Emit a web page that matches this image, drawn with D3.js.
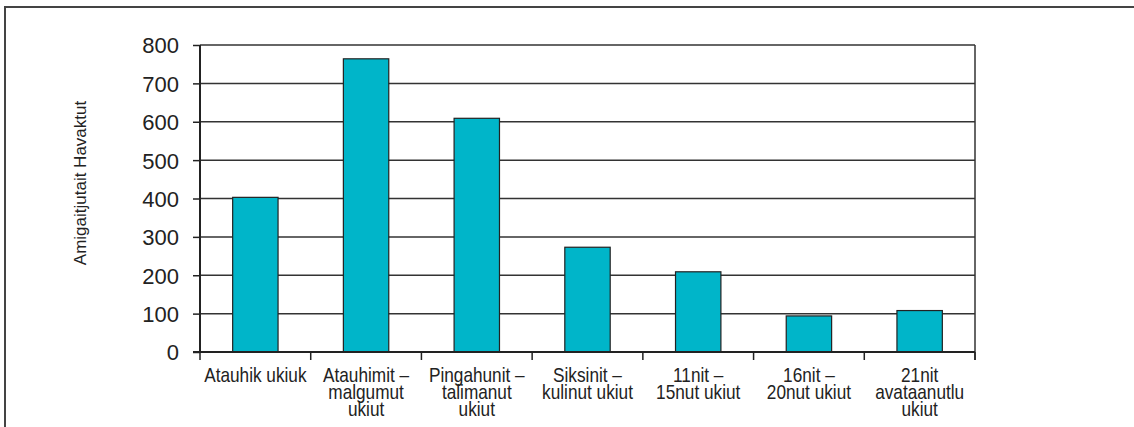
<!DOCTYPE html>
<html>
<head>
<meta charset="utf-8">
<title>Amigaitjutait Havaktut</title>
<script src="https://cdn.jsdelivr.net/npm/d3@7"></script>
<style>
  body { margin: 0; background: #fff; }
  svg { display: block; }
  .tick-label { font-family: "Liberation Sans", Arial, sans-serif; font-size: 22px; fill: #222; }
  .cat-label { font-family: "Liberation Sans", Arial, sans-serif; font-size: 21px; fill: #222; }
  .axis-title { font-family: "Liberation Sans", Arial, sans-serif; font-size: 17px; fill: #222; }
</style>
</head>
<body>
<svg id="main" width="1134" height="427"></svg>
<script>
// data
var categories = [
  "Atauhik ukiuk",
  "Atauhimit –\nmalgumut\nukiut",
  "Pingahunit –\ntalimanut\nukiut",
  "Siksinit –\nkulinut ukiut",
  "11nit –\n15nut ukiut",
  "16nit –\n20nut ukiut",
  "21nit\navataanutlu\nukiut"
];
var values = [403, 764, 609, 273, 209, 94, 108];
var yTicks = [0, 100, 200, 300, 400, 500, 600, 700, 800];
var yTitle = "Amigaitjutait Havaktut";

var svg = d3.select("#main");

// outer frame (cropped on right and bottom)
svg.append("path")
  .attr("d", "M5,427 L5,7 L1134,7")
  .attr("fill", "none")
  .attr("stroke", "#444")
  .attr("stroke-width", 2);

var plotL = 200, plotR = 975, plotT = 45, plotB = 352;

var x = d3.scaleBand()
  .domain(categories)
  .range([plotL, plotR])
  .paddingInner(0.59)
  .paddingOuter(0.295);

var y = d3.scaleLinear()
  .domain([0, 800])
  .range([plotB, plotT]);

// gridlines
svg.append("g").selectAll("line")
  .data(yTicks.filter(function(d) { return d > 0; }))
  .enter().append("line")
  .attr("x1", plotL).attr("x2", plotR)
  .attr("y1", function(d) { return y(d); })
  .attr("y2", function(d) { return y(d); })
  .attr("stroke", "#333")
  .attr("stroke-width", 1.5);

// right border
svg.append("line")
  .attr("x1", plotR).attr("x2", plotR)
  .attr("y1", plotT).attr("y2", plotB + 8)
  .attr("stroke", "#333").attr("stroke-width", 1.5);

// bars
svg.append("g").selectAll("rect")
  .data(values)
  .enter().append("rect")
  .attr("x", function(d, i) { return x(categories[i]); })
  .attr("width", x.bandwidth())
  .attr("y", function(d) { return y(d); })
  .attr("height", function(d) { return plotB - y(d); })
  .attr("fill", "#00b5c9")
  .attr("stroke", "#222")
  .attr("stroke-width", 1.2);

// y axis
var yAxis = d3.axisLeft(y).tickValues(yTicks).tickSize(7).tickPadding(14);
var yg = svg.append("g").attr("transform", "translate(" + plotL + ",0)").call(yAxis);
yg.attr("font-size", null).attr("font-family", null);
yg.select(".domain").attr("stroke", "#222").attr("stroke-width", 2).attr("d", "M0," + plotB + "V" + plotT);
yg.selectAll(".tick line").attr("stroke", "#222").attr("stroke-width", 1.5);
yg.selectAll(".tick text").attr("class", "tick-label").attr("fill", null).attr("dy", "0.36em");

// x axis line and ticks at category boundaries
svg.append("line")
  .attr("x1", plotL - 7).attr("x2", plotR)
  .attr("y1", plotB).attr("y2", plotB)
  .attr("stroke", "#222").attr("stroke-width", 2);
var step = x.step();
svg.append("g").selectAll("line")
  .data(d3.range(categories.length + 1))
  .enter().append("line")
  .attr("x1", function(i) { return plotL + i * step; })
  .attr("x2", function(i) { return plotL + i * step; })
  .attr("y1", plotB).attr("y2", plotB + 8)
  .attr("stroke", "#222").attr("stroke-width", 1.5);

// category labels (condensed horizontally, like a narrow face)
var labels = svg.append("g").selectAll("g")
  .data(categories)
  .enter().append("g")
  .attr("transform", function(d) { return "translate(" + (x(d) + x.bandwidth() / 2) + ",0) scale(0.82,1)"; });
labels.each(function(d) {
  var t = d3.select(this).append("text")
    .attr("class", "cat-label")
    .attr("text-anchor", "middle");
  d.split("\n").forEach(function(line, k) {
    t.append("tspan").attr("x", 0).attr("y", 382 + k * 16.8).text(line);
  });
});

// y axis title
svg.append("text")
  .attr("class", "axis-title")
  .attr("text-anchor", "middle")
  .attr("transform", "translate(86,183) rotate(-90)")
  .text(yTitle);
</script>
</body>
</html>
